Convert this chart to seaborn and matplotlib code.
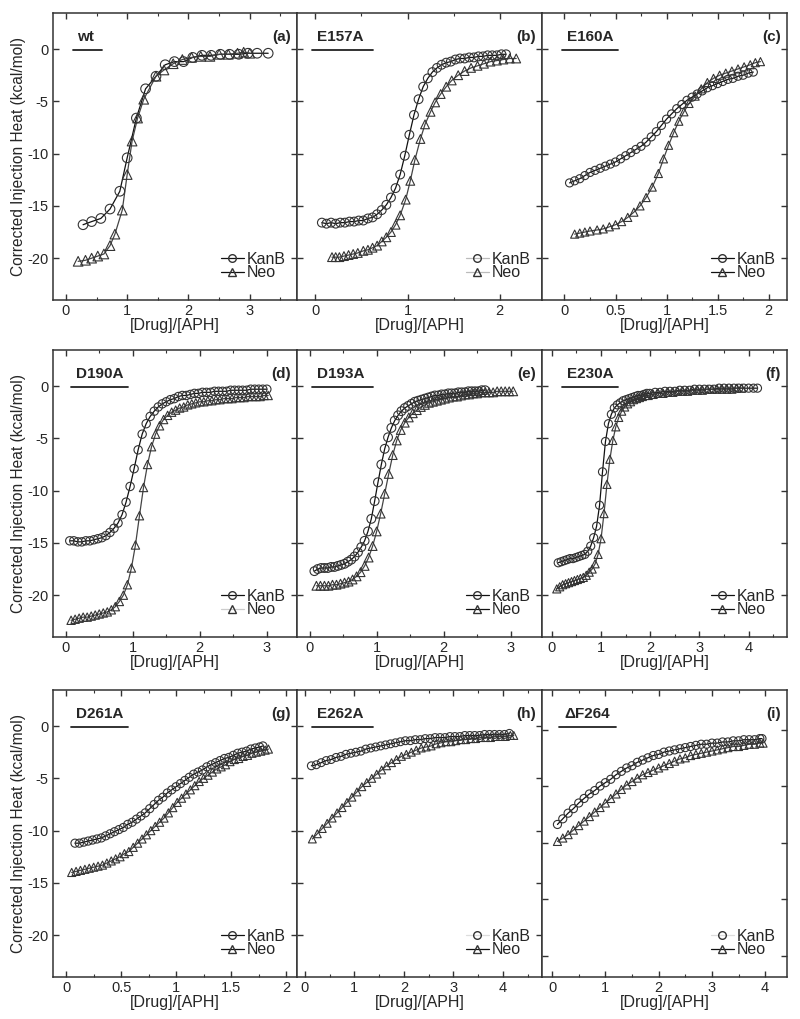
import numpy as np
import pandas as pd
import matplotlib
matplotlib.use("Agg")
import matplotlib.pyplot as plt
import seaborn as sns
from matplotlib.lines import Line2D
from matplotlib.ticker import MultipleLocator

sns.set_style("ticks")
plt.rcParams['font.family'] = ['Liberation Sans', 'DejaVu Sans']

# ---------------- data ----------------
panel_names = ["wt", "E157A", "E160A", "D190A", "D193A", "E230A", "D261A", "E262A", "\u0394F264"]
panel_letters = ["(a)", "(b)", "(c)", "(d)", "(e)", "(f)", "(g)", "(h)", "(i)"]

# (a) wt
a_kan_x = [0.28, 0.42, 0.57, 0.72, 0.88, 1.0, 1.15, 1.3, 1.47, 1.62, 1.77, 1.92, 2.07, 2.22, 2.37, 2.52, 2.67, 2.82, 2.97, 3.12, 3.3]
a_kan_y = [-16.8, -16.5, -16.2, -15.3, -13.6, -10.4, -6.6, -3.8, -2.6, -1.5, -1.2, -1.2, -0.8, -0.6, -0.6, -0.5, -0.5, -0.5, -0.4, -0.4, -0.4]
a_neo_x = [0.2, 0.32, 0.42, 0.52, 0.62, 0.72, 0.8, 0.92, 1.0, 1.08, 1.17, 1.27, 1.47, 1.6, 1.75, 1.9, 2.05, 2.2, 2.35, 2.5, 2.65, 2.8, 2.9, 3.0]
a_neo_y = [-20.3, -20.2, -20.0, -19.8, -19.6, -18.8, -17.7, -15.4, -12.0, -8.8, -6.6, -4.8, -2.6, -2.0, -1.4, -1.0, -0.8, -0.7, -0.7, -0.5, -0.5, -0.4, -0.3, -0.4]

# (b) E157A
b_kan_x = [0.07, 0.12, 0.17, 0.22, 0.27, 0.32, 0.37, 0.42, 0.47, 0.52, 0.57, 0.62, 0.67, 0.72, 0.77, 0.82, 0.87, 0.92, 0.97, 1.02, 1.07,
           1.12, 1.17, 1.22, 1.27, 1.32, 1.37, 1.42, 1.47, 1.52, 1.57, 1.62, 1.67, 1.72, 1.77, 1.82, 1.87, 1.92, 1.97, 2.02, 2.07]
b_kan_y = [-16.6, -16.7, -16.6, -16.7, -16.6, -16.6, -16.5, -16.5, -16.4, -16.4, -16.2, -16.1, -15.8, -15.4, -14.9, -14.2, -13.3, -12.0, -10.2, -8.2, -6.3,
           -4.8, -3.6, -2.8, -2.2, -1.8, -1.5, -1.3, -1.2, -1.0, -0.9, -0.9, -0.8, -0.8, -0.7, -0.7, -0.6, -0.6, -0.6, -0.5, -0.5]
b_neo_x = [0.18, 0.22, 0.26, 0.31, 0.36, 0.41, 0.46, 0.52, 0.57, 0.62, 0.67, 0.72, 0.77, 0.82, 0.87, 0.92, 0.98, 1.03, 1.08, 1.14, 1.19, 1.25,
           1.3, 1.36, 1.42, 1.48, 1.55, 1.62, 1.69, 1.76, 1.83, 1.9, 1.97, 2.04, 2.11, 2.18]
b_neo_y = [-19.9, -19.9, -19.9, -19.8, -19.7, -19.6, -19.5, -19.3, -19.2, -19.0, -18.8, -18.4, -18.0, -17.5, -16.8, -15.9, -14.4, -12.6, -10.6, -8.6, -7.2, -6.0,
           -5.1, -4.3, -3.6, -3.0, -2.5, -2.1, -1.8, -1.6, -1.4, -1.2, -1.1, -1.0, -0.9, -0.9]

# (c) E160A
c_kan_x = [0.05, 0.1, 0.15, 0.2, 0.25, 0.3, 0.35, 0.4, 0.45, 0.5, 0.55, 0.6, 0.65, 0.7, 0.75, 0.8, 0.85, 0.9, 0.95, 1.0, 1.05, 1.1, 1.15,
           1.2, 1.25, 1.3, 1.35, 1.4, 1.45, 1.5, 1.55, 1.6, 1.65, 1.7, 1.75, 1.8, 1.85]
c_kan_y = [-12.8, -12.6, -12.4, -12.1, -11.8, -11.6, -11.4, -11.2, -11.0, -10.8, -10.5, -10.2, -9.9, -9.6, -9.3, -8.9, -8.4, -7.9, -7.3, -6.7, -6.2, -5.7, -5.3,
           -4.9, -4.6, -4.3, -4.0, -3.7, -3.5, -3.3, -3.1, -2.9, -2.8, -2.6, -2.5, -2.3, -2.2]
c_neo_x = [0.1, 0.15, 0.2, 0.25, 0.32, 0.38, 0.44, 0.5, 0.56, 0.62, 0.68, 0.74, 0.8, 0.86, 0.92, 0.97, 1.02, 1.07, 1.12, 1.17, 1.22, 1.28,
           1.34, 1.4, 1.46, 1.52, 1.58, 1.64, 1.7, 1.76, 1.82, 1.87, 1.92]
c_neo_y = [-17.7, -17.6, -17.5, -17.4, -17.3, -17.2, -17.0, -16.8, -16.5, -16.1, -15.6, -15.0, -14.2, -13.2, -11.9, -10.5, -9.2, -8.0, -6.9, -6.0, -5.2, -4.5,
           -3.8, -3.2, -2.8, -2.5, -2.3, -2.1, -1.9, -1.7, -1.5, -1.3, -1.2]

# (d) D190A
d_kan_x = [0.06, 0.12, 0.18, 0.24, 0.30, 0.36, 0.42, 0.48, 0.54, 0.60, 0.66, 0.72, 0.78, 0.84, 0.90, 0.96, 1.02, 1.08, 1.14, 1.20, 1.26, 1.32,
           1.38, 1.44, 1.50, 1.56, 1.62, 1.68, 1.74, 1.80, 1.86, 1.92, 1.98, 2.04, 2.10, 2.16, 2.22, 2.28, 2.34, 2.40, 2.46, 2.52, 2.58, 2.64,
           2.70, 2.76, 2.82, 2.88, 2.94, 3.00]
d_kan_y = [-14.8, -14.8, -14.9, -14.9, -14.8, -14.8, -14.7, -14.6, -14.5, -14.3, -14.0, -13.6, -13.1, -12.3, -11.1, -9.6, -7.9, -6.1, -4.6, -3.6, -2.9, -2.4,
           -2.0, -1.7, -1.5, -1.3, -1.2, -1.0, -0.9, -0.9, -0.8, -0.7, -0.7, -0.6, -0.6, -0.6, -0.5, -0.5, -0.5, -0.5, -0.4, -0.4, -0.4, -0.4,
           -0.4, -0.3, -0.3, -0.3, -0.3, -0.3]
d_neo_x = [0.08, 0.14, 0.20, 0.26, 0.32, 0.38, 0.44, 0.50, 0.56, 0.62, 0.68, 0.74, 0.80, 0.86, 0.92, 0.98, 1.04, 1.10, 1.16, 1.22, 1.28, 1.34,
           1.40, 1.46, 1.52, 1.58, 1.64, 1.70, 1.76, 1.82, 1.88, 1.94, 2.00, 2.06, 2.12, 2.18, 2.24, 2.30, 2.36, 2.42, 2.48, 2.54, 2.60, 2.66,
           2.72, 2.78, 2.84, 2.90, 2.96, 3.02]
d_neo_y = [-22.4, -22.3, -22.2, -22.1, -22.1, -22.0, -21.9, -21.8, -21.7, -21.6, -21.4, -21.1, -20.6, -20.0, -19.0, -17.4, -15.2, -12.4, -9.7, -7.5, -5.8, -4.6,
           -3.8, -3.2, -2.8, -2.5, -2.3, -2.1, -2.0, -1.8, -1.7, -1.6, -1.5, -1.5, -1.4, -1.4, -1.3, -1.3, -1.2, -1.2, -1.2, -1.1, -1.1, -1.1,
           -1.0, -1.0, -1.0, -1.0, -0.9, -0.9]

# (e) D193A
e_kan_x = [0.07, 0.12, 0.17, 0.22, 0.27, 0.32, 0.37, 0.42, 0.47, 0.52, 0.57, 0.62, 0.67, 0.72, 0.77, 0.82, 0.87, 0.92, 0.97, 1.02, 1.07, 1.12,
           1.17, 1.22, 1.27, 1.32, 1.37, 1.42, 1.47, 1.52, 1.57, 1.62, 1.67, 1.72, 1.77, 1.82, 1.87, 1.92, 1.97, 2.02, 2.07, 2.12, 2.17, 2.22,
           2.27, 2.32, 2.37, 2.42, 2.47, 2.52, 2.57, 2.62]
e_kan_y = [-17.7, -17.5, -17.4, -17.4, -17.4, -17.3, -17.3, -17.2, -17.1, -17.0, -16.8, -16.6, -16.3, -15.9, -15.4, -14.8, -13.9, -12.7, -11.0, -9.2, -7.5, -6.0,
           -4.9, -4.0, -3.3, -2.8, -2.4, -2.1, -1.9, -1.7, -1.5, -1.4, -1.3, -1.2, -1.1, -1.0, -0.9, -0.9, -0.8, -0.8, -0.7, -0.7, -0.7, -0.6,
           -0.6, -0.6, -0.5, -0.5, -0.5, -0.5, -0.4, -0.4]
e_neo_x = [0.10, 0.16, 0.22, 0.28, 0.34, 0.40, 0.46, 0.52, 0.58, 0.64, 0.70, 0.76, 0.82, 0.88, 0.94, 1.00, 1.06, 1.12, 1.18, 1.24, 1.30, 1.36,
           1.42, 1.48, 1.54, 1.60, 1.66, 1.72, 1.78, 1.84, 1.90, 1.96, 2.02, 2.08, 2.14, 2.20, 2.26, 2.32, 2.38, 2.44, 2.50, 2.56, 2.62, 2.68,
           2.74, 2.80, 2.86, 2.92, 2.98, 3.04]
e_neo_y = [-19.1, -19.1, -19.1, -19.1, -19.0, -19.0, -18.9, -18.8, -18.7, -18.5, -18.2, -17.8, -17.2, -16.4, -15.3, -13.9, -12.2, -10.3, -8.4, -6.6, -5.2, -4.2,
           -3.5, -3.0, -2.6, -2.3, -2.0, -1.8, -1.6, -1.5, -1.4, -1.3, -1.2, -1.1, -1.0, -1.0, -0.9, -0.8, -0.8, -0.7, -0.7, -0.6, -0.6, -0.6,
           -0.6, -0.5, -0.5, -0.5, -0.5, -0.5]

# (f) E230A
f_kan_x = [0.13, 0.19, 0.25, 0.31, 0.37, 0.43, 0.49, 0.55, 0.61, 0.67, 0.73, 0.79, 0.85, 0.91, 0.97, 1.03, 1.09, 1.15, 1.21, 1.27, 1.33, 1.39,
           1.45, 1.51, 1.57, 1.63, 1.69, 1.75, 1.81, 1.87, 1.93, 1.99, 2.10, 2.20, 2.30, 2.40, 2.50, 2.60, 2.70, 2.80, 2.90, 3.00, 3.10, 3.20,
           3.30, 3.40, 3.50, 3.60, 3.70, 3.80, 3.90, 4.00, 4.10, 4.18]
f_kan_y = [-16.9, -16.8, -16.7, -16.6, -16.5, -16.5, -16.4, -16.3, -16.2, -16.1, -15.8, -15.3, -14.5, -13.4, -11.4, -8.2, -5.3, -3.6, -2.7, -2.1, -1.8, -1.6,
           -1.4, -1.3, -1.2, -1.1, -1.0, -0.9, -0.9, -0.8, -0.7, -0.7, -0.6, -0.6, -0.5, -0.5, -0.5, -0.4, -0.4, -0.4, -0.3, -0.3, -0.3, -0.3,
           -0.3, -0.2, -0.2, -0.2, -0.2, -0.2, -0.2, -0.2, -0.2, -0.2]
f_neo_x = [0.10, 0.16, 0.22, 0.28, 0.34, 0.40, 0.46, 0.52, 0.58, 0.64, 0.70, 0.76, 0.82, 0.88, 0.94, 1.00, 1.06, 1.12, 1.18, 1.24, 1.30, 1.36,
           1.42, 1.48, 1.54, 1.60, 1.66, 1.72, 1.78, 1.84, 1.90, 1.96, 2.06, 2.16, 2.26, 2.36, 2.46, 2.56, 2.66, 2.76, 2.86, 2.96, 3.06, 3.16,
           3.26, 3.36, 3.46, 3.56, 3.66, 3.76, 3.86]
f_neo_y = [-19.4, -19.2, -19.0, -18.9, -18.8, -18.7, -18.6, -18.5, -18.4, -18.3, -18.1, -17.8, -17.5, -17.0, -16.1, -14.6, -12.2, -9.4, -7.0, -5.2, -3.9, -3.0,
           -2.4, -2.0, -1.7, -1.5, -1.3, -1.2, -1.1, -1.0, -0.9, -0.9, -0.8, -0.7, -0.7, -0.6, -0.6, -0.5, -0.5, -0.5, -0.4, -0.4, -0.4, -0.3,
           -0.3, -0.3, -0.3, -0.3, -0.3, -0.2, -0.2]

# (g) D261A
g_kan_x = [0.08, 0.12, 0.16, 0.20, 0.24, 0.28, 0.32, 0.36, 0.40, 0.44, 0.48, 0.52, 0.56, 0.60, 0.64, 0.68, 0.72, 0.76, 0.80, 0.84, 0.88, 0.92,
           0.96, 1.00, 1.04, 1.08, 1.12, 1.16, 1.20, 1.24, 1.28, 1.32, 1.36, 1.40, 1.44, 1.48, 1.52, 1.56, 1.60, 1.64, 1.68, 1.72, 1.76, 1.79]
g_kan_y = [-11.2, -11.2, -11.1, -11.0, -10.9, -10.8, -10.7, -10.5, -10.3, -10.1, -9.9, -9.7, -9.4, -9.2, -8.9, -8.6, -8.3, -7.9, -7.5, -7.1, -6.8, -6.4,
           -6.1, -5.8, -5.5, -5.2, -4.9, -4.6, -4.4, -4.2, -3.9, -3.7, -3.5, -3.3, -3.1, -3.0, -2.8, -2.6, -2.5, -2.4, -2.2, -2.1, -2.0, -1.9]
g_neo_x = [0.05, 0.09, 0.13, 0.17, 0.21, 0.25, 0.29, 0.33, 0.37, 0.41, 0.45, 0.49, 0.53, 0.57, 0.61, 0.65, 0.69, 0.73, 0.77, 0.81, 0.85, 0.89,
           0.93, 0.97, 1.01, 1.05, 1.09, 1.13, 1.17, 1.21, 1.25, 1.29, 1.33, 1.37, 1.41, 1.45, 1.49, 1.53, 1.57, 1.61, 1.65, 1.69, 1.73, 1.77,
           1.81, 1.84]
g_neo_y = [-14.0, -13.9, -13.8, -13.7, -13.6, -13.5, -13.4, -13.3, -13.1, -12.9, -12.7, -12.5, -12.2, -12.0, -11.6, -11.2, -10.8, -10.4, -10.0, -9.6, -9.2, -8.8,
           -8.3, -7.8, -7.3, -6.9, -6.5, -6.1, -5.7, -5.3, -5.0, -4.7, -4.4, -4.1, -3.9, -3.7, -3.4, -3.2, -3.1, -2.9, -2.8, -2.6, -2.5, -2.4,
           -2.3, -2.2]

# (h) E262A
h_kan_x = [0.13, 0.23, 0.33, 0.43, 0.53, 0.63, 0.73, 0.83, 0.93, 1.03, 1.13, 1.23, 1.33, 1.43, 1.53, 1.63, 1.73, 1.83, 1.93, 2.03, 2.13,
           2.23, 2.33, 2.43, 2.53, 2.63, 2.73, 2.83, 2.93, 3.03, 3.13, 3.23, 3.33, 3.43, 3.53, 3.63, 3.73, 3.83, 3.93, 4.03, 4.13]
h_kan_y = [-3.8, -3.7, -3.5, -3.3, -3.2, -3.0, -2.9, -2.7, -2.6, -2.5, -2.4, -2.2, -2.1, -2.0, -1.9, -1.8, -1.7, -1.6, -1.5, -1.4, -1.4,
           -1.3, -1.3, -1.2, -1.2, -1.1, -1.1, -1.1, -1.0, -1.0, -1.0, -0.9, -0.9, -0.9, -0.9, -0.8, -0.8, -0.8, -0.8, -0.8, -0.7]
h_neo_x = [0.15, 0.25, 0.35, 0.45, 0.55, 0.65, 0.75, 0.85, 0.95, 1.05, 1.15, 1.25, 1.35, 1.45, 1.55, 1.65, 1.75, 1.85, 1.95, 2.05, 2.15,
           2.25, 2.35, 2.45, 2.55, 2.65, 2.75, 2.85, 2.95, 3.05, 3.15, 3.25, 3.35, 3.45, 3.55, 3.65, 3.75, 3.85, 3.95, 4.05, 4.15, 4.22]
h_neo_y = [-10.8, -10.3, -9.8, -9.3, -8.8, -8.3, -7.8, -7.3, -6.8, -6.3, -5.8, -5.4, -5.0, -4.6, -4.2, -3.8, -3.5, -3.2, -2.9, -2.7, -2.5,
           -2.3, -2.1, -2.0, -1.9, -1.7, -1.6, -1.5, -1.5, -1.4, -1.3, -1.3, -1.2, -1.2, -1.1, -1.1, -1.1, -1.0, -1.0, -1.0, -0.9, -0.9]

# (i) dF264
i_kan_x = [0.10, 0.20, 0.30, 0.40, 0.50, 0.60, 0.70, 0.80, 0.90, 1.00, 1.10, 1.20, 1.30, 1.40, 1.50, 1.60, 1.70, 1.80, 1.90, 2.00,
           2.10, 2.20, 2.30, 2.40, 2.50, 2.60, 2.70, 2.80, 2.90, 3.00, 3.10, 3.20, 3.30, 3.40, 3.50, 3.60, 3.70, 3.80, 3.90, 3.94]
i_kan_y = [-8.4, -7.9, -7.4, -7.0, -6.5, -6.1, -5.7, -5.4, -5.0, -4.7, -4.4, -4.0, -3.7, -3.4, -3.2, -2.9, -2.7, -2.5, -2.3, -2.2,
           -2.0, -1.9, -1.8, -1.7, -1.6, -1.5, -1.4, -1.3, -1.3, -1.2, -1.2, -1.1, -1.1, -1.0, -1.0, -0.9, -0.9, -0.9, -0.8, -0.8]
i_neo_x = [0.10, 0.20, 0.30, 0.40, 0.50, 0.60, 0.70, 0.80, 0.90, 1.00, 1.10, 1.20, 1.30, 1.40, 1.50, 1.60, 1.70, 1.80, 1.90, 2.00,
           2.10, 2.20, 2.30, 2.40, 2.50, 2.60, 2.70, 2.80, 2.90, 3.00, 3.10, 3.20, 3.30, 3.40, 3.50, 3.60, 3.70, 3.80, 3.90, 3.96]
i_neo_y = [-9.9, -9.6, -9.3, -8.9, -8.5, -8.1, -7.7, -7.3, -6.9, -6.5, -6.1, -5.7, -5.3, -4.9, -4.6, -4.3, -4.0, -3.8, -3.6, -3.4,
           -3.2, -3.0, -2.8, -2.6, -2.5, -2.3, -2.2, -2.1, -2.0, -1.9, -1.8, -1.7, -1.6, -1.5, -1.5, -1.4, -1.3, -1.3, -1.2, -1.2]

x_ticks = [[0, 1, 2, 3], [0, 1, 2], [0, 0.5, 1, 1.5, 2],
           [0, 1, 2, 3], [0, 1, 2, 3], [0, 1, 2, 3, 4],
           [0, 0.5, 1, 1.5, 2], [0, 1, 2, 3, 4], [0, 1, 2, 3, 4]]
y_ticks = [0, -5, -10, -15, -20]
y_ticklabels = ["0", "-5", "-10", "-15", "-20"]

series = [
    (a_kan_x, a_kan_y, a_neo_x, a_neo_y),
    (b_kan_x, b_kan_y, b_neo_x, b_neo_y),
    (c_kan_x, c_kan_y, c_neo_x, c_neo_y),
    (d_kan_x, d_kan_y, d_neo_x, d_neo_y),
    (e_kan_x, e_kan_y, e_neo_x, e_neo_y),
    (f_kan_x, f_kan_y, f_neo_x, f_neo_y),
    (g_kan_x, g_kan_y, g_neo_x, g_neo_y),
    (h_kan_x, h_kan_y, h_neo_x, h_neo_y),
    (i_kan_x, i_kan_y, i_neo_x, i_neo_y),
]

# ---------------- layout / style ----------------
W, H = 800, 1019
fig = plt.figure(figsize=(W / 100, H / 100), dpi=100)
col_px = [(53, 297), (297, 542), (542, 787)]
row_top = [13, 350, 690]
row_h = 287
xlims = [(-0.21, 3.77), (-0.2, 2.46), (-0.22, 2.18),
         (-0.19, 3.45), (-0.19, 3.47), (-0.2, 4.78),
         (-0.12, 2.1), (-0.16, 4.79), (-0.19, 4.41)]
ylims = [(-24, 3.45)] * 8 + [(-21.9, 3.5)]
ul_span = [(0.08, 0.2), (0.06, 0.31), (0.08, 0.31),
           (0.073, 0.306), (0.06, 0.31), (0.08, 0.31),
           (0.073, 0.306), (0.06, 0.31), (0.07, 0.30)]
msize = [48, 40, 34, 36, 40, 34, 34, 32, 34]
# legend line colours (some legend entries show only a faint line in the reference)
leg_line = [("#111111", "#111111"), ("#bbbbbb", "#bbbbbb"), ("#111111", "#111111"),
            ("#111111", "#cccccc"), ("#111111", "#111111"), ("#111111", "#111111"),
            ("#111111", "#111111"), ("#dddddd", "#111111"), ("#dddddd", "#111111")]

edge = "#333333"
for k in range(9):
    r, c = divmod(k, 3)
    l, rt = col_px[c]
    top = row_top[r]
    ax = fig.add_axes([l / W, 1 - (top + row_h) / H, (rt - l) / W, row_h / H])
    kx, ky, nx, ny = series[k]
    df = pd.concat([
        pd.DataFrame({"x": kx, "y": ky, "lig": "KanB"}),
        pd.DataFrame({"x": nx, "y": ny, "lig": "Neo"}),
    ], ignore_index=True)
    sns.lineplot(data=df, x="x", y="y", hue="lig", palette={"KanB": "#111111", "Neo": "#444444"},
                 estimator=None, sort=True, linewidth=0.9, legend=False, ax=ax)
    for lig, mk in (("KanB", "o"), ("Neo", "^")):
        sub = df[df["lig"] == lig]
        ax.scatter(sub["x"], sub["y"], marker=mk, s=msize[k], facecolors="none",
                   edgecolors=edge, linewidths=0.8, zorder=3)
    ax.set_xlim(*xlims[k])
    ax.set_ylim(*ylims[k])
    ax.set_xticks(x_ticks[k])
    ax.set_xticklabels([("%g" % t) for t in x_ticks[k]])
    step = x_ticks[k][1] - x_ticks[k][0]
    ax.xaxis.set_minor_locator(MultipleLocator(step / 2))
    ax.set_yticks(y_ticks)
    ax.tick_params(which="both", direction="in", top=True, right=True, color=edge,
                   labelsize=10.5, pad=3)
    ax.tick_params(which="major", length=4, width=1)
    ax.tick_params(which="minor", length=2.5, width=0.8)
    for s in ax.spines.values():
        s.set_color(edge)
        s.set_linewidth(1.1)
    ax.set_xlabel("[Drug]/[APH]", fontsize=11.5, labelpad=0)
    if c == 0:
        ax.set_yticklabels(y_ticklabels)
        ax.set_ylabel("Corrected Injection Heat (kcal/mol)", fontsize=11.2, labelpad=1)
    else:
        ax.set_yticklabels([])
        ax.set_ylabel("")
    # panel name with underline
    x0, x1 = ul_span[k]
    ax.text(x0 + 0.02, 0.915, panel_names[k], transform=ax.transAxes, fontsize=11,
            fontweight="bold", ha="left", va="center")
    ax.plot([x0, x1], [0.872, 0.872], transform=ax.transAxes, color="#222222", lw=1.3)
    ax.text(0.975, 0.915, panel_letters[k], transform=ax.transAxes, fontsize=11,
            fontweight="bold", ha="right", va="center")
    lk, ln = leg_line[k]
    handles = [
        Line2D([], [], color=lk, lw=0.9, marker="o", markerfacecolor="none",
               markeredgecolor=edge, markersize=5.5),
        Line2D([], [], color=ln, lw=0.9, marker="^", markerfacecolor="none",
               markeredgecolor=edge, markersize=5.5),
    ]
    ax.legend(handles, ["KanB", "Neo"], loc="lower right", bbox_to_anchor=(1.0, 0.03),
              frameon=False, fontsize=11.5, handlelength=1.4, handletextpad=0.2,
              labelspacing=-0.1, borderaxespad=0.3)

fig.savefig("out.png", dpi=100)
